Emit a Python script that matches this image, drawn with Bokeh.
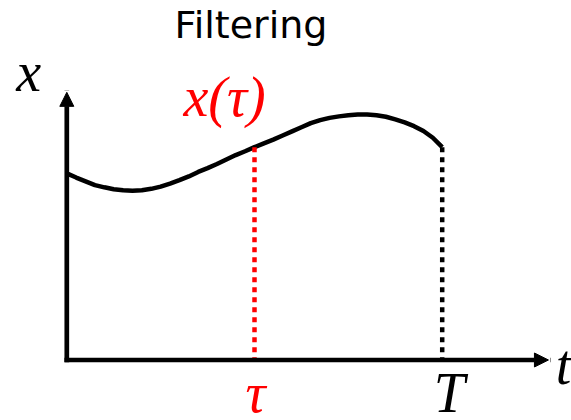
from bokeh.plotting import figure
from bokeh.models import Arrow, NormalHead, Label, Range1d
from bokeh.core.properties import value
from bokeh.embed import file_html
from bokeh.resources import INLINE

# Sampled trajectory x(t) on [0, T]
t_values = [0.0, 0.25, 0.5, 0.75, 1.0, 1.25, 1.5, 1.75, 2.0, 2.25,
            2.5, 2.75, 3.0, 3.25, 3.5, 3.75, 4.0, 4.25, 4.5, 4.75,
            5.0, 5.25, 5.5, 5.75, 6.0, 6.25, 6.5, 6.75, 7.0, 7.25,
            7.5, 7.75, 8.0, 8.25, 8.5, 8.75, 9.0, 9.25, 9.5, 9.75, 10.0]
x_values = [4.97, 4.86, 4.76, 4.66, 4.60, 4.55, 4.52, 4.51, 4.52, 4.56,
            4.62, 4.70, 4.79, 4.89, 5.01, 5.11, 5.22, 5.34, 5.46, 5.56,
            5.67, 5.77, 5.87, 5.98, 6.09, 6.20, 6.31, 6.39, 6.45, 6.49,
            6.52, 6.54, 6.54, 6.52, 6.48, 6.41, 6.33, 6.23, 6.10, 5.92, 5.67]

tau = 5.0          # filtering instant
T_end = 10.0       # current time
t_axis_len = 12.83 # length of the time axis arrow
x_axis_len = 7.13  # length of the state axis arrow

title_text = "Filtering"
label_x = "x"
label_t = "t"
label_tau = "τ"
label_T = "T"
label_x_tau = "x(τ)"

x_tau = x_values[t_values.index(tau)]
x_T = x_values[t_values.index(T_end)]

RED = "#ff0000"
BLACK = "#000000"
MATH_FONT = "Liberation Serif"
MATH_SIZE = "56px"

p = figure(width=571, height=420,
           x_range=Range1d(-1.766, 13.444), y_range=Range1d(-1.612, 9.577),
           output_backend="svg", toolbar_location=None,
           x_axis_location=None, y_axis_location=None,
           min_border=0, outline_line_color=None,
           background_fill_color="white", border_fill_color="white")
p.xgrid.visible = False
p.ygrid.visible = False

# axes drawn as arrows from the origin
for xe, ye in [(0.0, x_axis_len), (t_axis_len, 0.0)]:
    p.add_layout(Arrow(x_start=0.0, y_start=0.0, x_end=xe, y_end=ye,
                       line_width=4.7, line_color=BLACK, line_cap="square",
                       end=NormalHead(size=14, fill_color=BLACK,
                                      line_color=BLACK, line_width=1)))

# the trajectory
p.line(t_values, x_values, line_width=4.5, line_color=BLACK,
       line_join="round", line_cap="butt")

# dotted drop lines at tau and T
p.segment(x0=[tau], y0=[x_tau], x1=[tau], y1=[0.0],
          line_width=4.5, line_color=RED, line_dash="5 5", line_cap="butt")
p.segment(x0=[T_end], y0=[x_T], x1=[T_end], y1=[0.0],
          line_width=4.5, line_color=BLACK, line_dash="5 5", line_cap="butt")

def math_label(x, y, text, color, dx, dy):
    p.text(x=[x], y=[y], text=[text], text_color=color,
           text_font=value(MATH_FONT), text_font_style="italic",
           text_font_size=MATH_SIZE, text_align="center",
           text_baseline="alphabetic", x_offset=dx, y_offset=dy)

math_label(0.0, x_axis_len, label_x, BLACK, -38, -20)
math_label(t_axis_len, 0.0, label_t, BLACK, 15, 5)
math_label(tau, 0.0, label_tau, RED, 1, 33)
math_label(T_end, 0.0, label_T, BLACK, 7, 33)
math_label(tau, x_tau, label_x_tau, RED, -30, -50)

p.add_layout(Label(x=250.5, y=396, x_units="screen", y_units="screen",
                   text=title_text, text_font="DejaVu Sans",
                   text_font_size="38px", text_color=BLACK,
                   text_align="center", text_baseline="alphabetic"))

open("out.html", "w").write(file_html(p, INLINE))
